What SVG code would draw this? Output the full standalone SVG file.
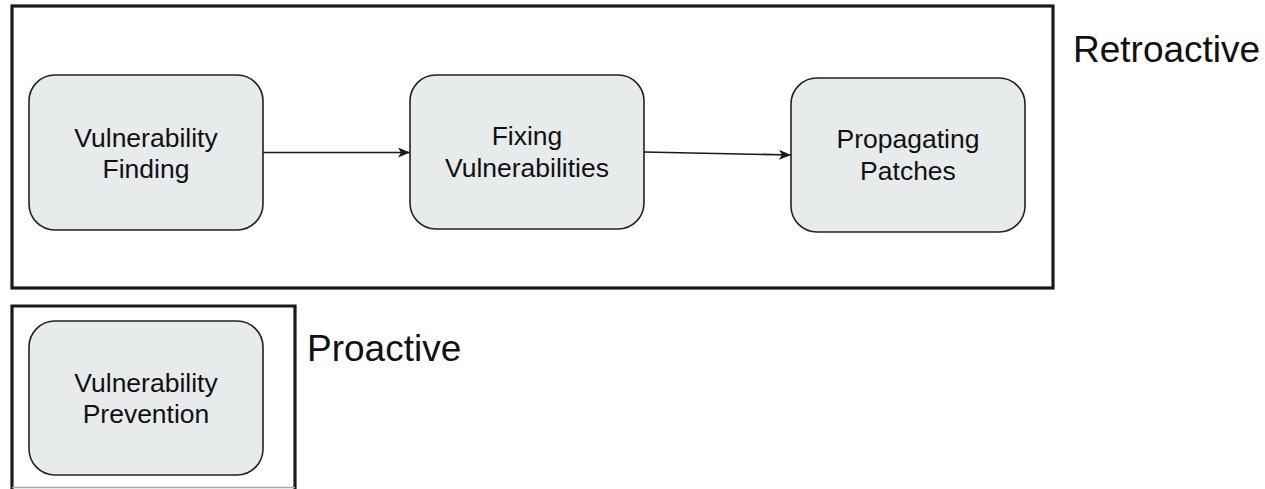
<svg xmlns="http://www.w3.org/2000/svg" width="1265" height="489" viewBox="0 0 1265 489">
<style>
.frame{fill:none;stroke:#1a1a1a;stroke-width:3.2}
.node{fill:#e8ebec;stroke:#222;stroke-width:1.6}
.lbl{font-family:"Liberation Sans",Arial,sans-serif;font-size:26.5px;fill:#111;text-anchor:middle}
.big{font-family:"Liberation Sans",Arial,sans-serif;font-size:37px;fill:#111}
.edge{fill:none;stroke:#1a1a1a;stroke-width:1.6}
</style>
<defs>
<marker id="arr" viewBox="0 0 12 10" refX="12" refY="5" markerWidth="12" markerHeight="10" markerUnits="userSpaceOnUse" orient="auto">
<path d="M0,0 L12,5 L0,10 L3,5 Z" fill="#1a1a1a"/>
</marker>
</defs>
<rect class="frame" x="12" y="6" width="1041" height="282"/>
<path d="M12,489 V306 H295 V489" class="frame"/>
<line x1="12" y1="487.5" x2="295" y2="487.5" stroke="#aaa" stroke-width="1.5"/>
<text class="big" x="1073" y="62">Retroactive</text>
<text class="big" x="307" y="361">Proactive</text>
<g id="connectors">
<line class="edge" x1="263" y1="152.5" x2="410" y2="152.5" marker-end="url(#arr)"/>
<line class="edge" x1="644" y1="152" x2="791" y2="155" marker-end="url(#arr)"/>
</g>
<g id="n1">
<rect class="node" x="29" y="75" width="234" height="155" rx="26"/>
<text class="lbl" x="146" y="147">Vulnerability</text>
<text class="lbl" x="146" y="178">Finding</text>
</g>
<g id="n2">
<rect class="node" x="410" y="75" width="234" height="154" rx="26"/>
<text class="lbl" x="527" y="145">Fixing</text>
<text class="lbl" x="527" y="177">Vulnerabilities</text>
</g>
<g id="n3">
<rect class="node" x="791" y="78" width="234" height="154" rx="26"/>
<text class="lbl" x="908" y="148">Propagating</text>
<text class="lbl" x="908" y="180">Patches</text>
</g>
<g id="n4">
<rect class="node" x="29" y="321" width="234" height="154" rx="26"/>
<text class="lbl" x="146" y="392">Vulnerability</text>
<text class="lbl" x="146" y="423">Prevention</text>
</g>
</svg>
